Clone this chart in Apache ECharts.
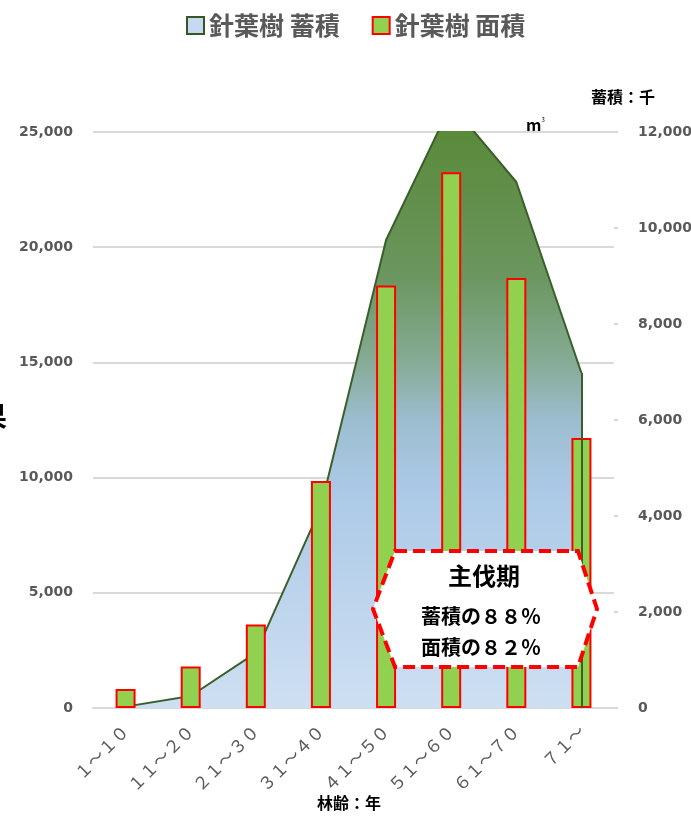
<!DOCTYPE html>
<html>
<head>
<meta charset="utf-8">
<script src="https://cdn.jsdelivr.net/npm/echarts@6/dist/echarts.min.js"></script>
<style>
html,body{margin:0;padding:0;background:#fff;}
#main{width:691px;height:818px;}
</style>
</head>
<body>
<div id="main"></div>
<script>
// ---- data ----
const categories = ['１～１０','１１～２０','２１～３０','３１～４０','４１～５０','５１～６０','６１～７０','７１～'];
const stockValues = [60, 520, 2390, 8720, 20310, 26200, 22830, 14540];   // 針葉樹 蓄積 (left axis)
const areaValues  = [396, 865, 1740, 4729, 8800, 11160, 8958, 5625];     // 針葉樹 面積 (right axis)
const stockName = '針葉樹 蓄積';
const areaName  = '針葉樹 面積';
const leftTicks  = {min: 0, max: 25000, interval: 5000};
const rightTicks = {min: 0, max: 12000, interval: 2000};

const CJK = '"Noto Sans CJK JP", sans-serif';
const NUM = '"DejaVu Sans", sans-serif';
const fmt = v => Number(v).toLocaleString('en-US');

const chart = echarts.init(document.getElementById('main'), null, {renderer: 'canvas'});
const last = categories.length - 1;

chart.setOption({
  animation: false,
  backgroundColor: '#ffffff',
  legend: {
    top: 8,
    left: 181,
    itemWidth: 17,
    itemHeight: 17,
    itemGap: 32,
    textStyle: {fontFamily: CJK, fontSize: 25, fontWeight: 'bold', color: '#595959'},
    data: [
      {name: stockName, icon: 'rect', itemStyle: {color: '#c5d9f1', borderColor: '#375623', borderWidth: 2}},
      {name: areaName, icon: 'rect', itemStyle: {color: '#92d050', borderColor: '#ff0000', borderWidth: 2}}
    ]
  },
  grid: {left: 93, right: 77, top: 132, bottom: 110, containLabel: false, outerBoundsMode: 'none'},
  xAxis: {
    type: 'category',
    data: categories,
    boundaryGap: true,
    axisLine: {lineStyle: {color: '#d9d9d9', width: 2}},
    axisTick: {show: false},
    axisLabel: {rotate: 45, margin: 20, fontFamily: CJK, fontSize: 17, color: '#595959', interval: 0}
  },
  yAxis: [
    {
      type: 'value', position: 'left',
      min: leftTicks.min, max: leftTicks.max, interval: leftTicks.interval,
      axisLine: {show: false}, axisTick: {show: false},
      splitLine: {lineStyle: {color: '#d9d9d9', width: 2}},
      axisLabel: {formatter: fmt, margin: 20, fontFamily: NUM, fontSize: 14, fontWeight: 'bold', color: '#595959'}
    },
    {
      type: 'value', position: 'right',
      min: rightTicks.min, max: rightTicks.max, interval: rightTicks.interval,
      axisLine: {show: false},
      axisTick: {show: true, length: 4, lineStyle: {color: '#d9d9d9', width: 2}},
      splitLine: {show: false},
      axisLabel: {formatter: fmt, margin: 24, align: 'left', fontFamily: NUM, fontSize: 14, fontWeight: 'bold', color: '#595959'}
    }
  ],
  series: [
    {
      name: stockName,
      type: 'line',
      yAxisIndex: 0,
      data: stockValues,
      symbol: 'none',
      clip: true,
      z: 2,
      lineStyle: {color: '#3a5f2a', width: 2},
      itemStyle: {color: '#3a5f2a'},
      areaStyle: {
        opacity: 1,
        color: {
          type: 'linear', x: 0, y: 132, x2: 0, y2: 708, global: true,
          colorStops: [
            {offset: 0, color: '#5a8a3a'},
            {offset: 0.25, color: '#6b965f'},
            {offset: 0.4, color: '#86ab96'},
            {offset: 0.5, color: '#9cbdcf'},
            {offset: 0.62, color: '#abc9e6'},
            {offset: 1, color: '#cedff2'}
          ]
        }
      },
      markLine: {
        silent: true,
        symbol: ['none', 'none'],
        label: {show: false},
        lineStyle: {color: '#3a5f2a', width: 2, type: 'solid'},
        data: [[{coord: [categories[last], 0]}, {coord: [categories[last], stockValues[last]]}]]
      }
    },
    {
      name: areaName,
      type: 'bar',
      yAxisIndex: 1,
      data: areaValues,
      barWidth: 20,
      z: 3,
      itemStyle: {color: '#92d050', borderColor: '#ff0000', borderWidth: 2}
    }
  ],
  graphic: [
    {
      type: 'polygon', z: 100,
      shape: {points: [[395, 551], [578, 551], [597, 609], [578, 667], [395, 667], [373, 609]]},
      style: {fill: '#ffffff', stroke: '#ff0000', lineWidth: 4, lineDash: [12, 6]}
    },
    {type: 'text', z: 101, left: 448, top: 564,
      style: {text: '主伐期', fontFamily: CJK, fontSize: 24, fontWeight: 'bold', fill: '#000'}},
    {type: 'text', z: 101, left: 421, top: 606,
      style: {text: '蓄積の８８％', fontFamily: CJK, fontSize: 20, fontWeight: 'bold', fill: '#000'}},
    {type: 'text', z: 101, left: 421, top: 637,
      style: {text: '面積の８２％', fontFamily: CJK, fontSize: 20, fontWeight: 'bold', fill: '#000'}},
    {type: 'text', z: 101, left: 591, top: 89,
      style: {text: '蓄積：千', fontFamily: CJK, fontSize: 16, fontWeight: 'bold', fill: '#000'}},
    {type: 'text', z: 101, left: 526, top: 117,
      style: {text: '{m|m}{s|3}', rich: {m: {fontFamily: CJK, fontSize: 16, fontWeight: 'bold', fill: '#000', verticalAlign: 'bottom'}, s: {fontFamily: CJK, fontSize: 6, fill: '#000', verticalAlign: 'top', padding: [0,0,10,0]}}}},
    {type: 'text', z: 101, left: 317, top: 795,
      style: {text: '林齢：年', fontFamily: CJK, fontSize: 16, fontWeight: 'bold', fill: '#000'}},
    {type: 'text', z: 101, left: -21, top: 402,
      style: {text: '果', fontFamily: CJK, fontSize: 28, fontWeight: 'bold', fill: '#000'}}
  ]
});
</script>
</body>
</html>
